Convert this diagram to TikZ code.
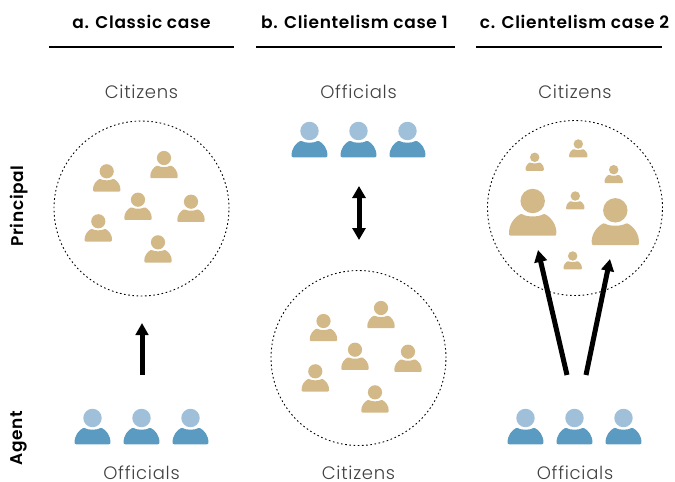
\documentclass[tikz,border=0pt]{standalone}
\usepackage{fontspec}
\setmainfont{Poppins Light}[BoldFont={Poppins SemiBold},LetterSpace=4]
\usetikzlibrary{arrows.meta}
\definecolor{tan}{HTML}{D3B888}
\definecolor{bluehead}{HTML}{A0BFD8}
\definecolor{bluebody}{HTML}{5B9BC1}
\tikzset{
  groupcircle/.style={circle,draw=black,dash pattern=on 1.6pt off 2.6pt,line width=.9pt,minimum size=175pt,inner sep=0pt},
  lab/.style={font=\fontsize{18}{20}\selectfont,text=black!75,inner sep=0pt},
  head/.style={font=\bfseries\fontsize{17}{20}\selectfont,inner sep=0pt},
  side/.style={font=\bfseries\fontsize{17}{20}\selectfont,rotate=90,inner sep=0pt},
  rule/.style={line width=1.4pt},
  arr/.style={line width=5pt,-{Triangle[length=12pt,width=12.5pt]}},
  darr/.style={line width=5pt,{Triangle[length=12pt,width=13pt]}-{Triangle[length=12pt,width=13pt]}},
}
\newcommand{\icon}[5]{% x y scale headcolor bodycolor
  \begin{scope}[shift={(#1,#2)},scale=#3]
    \fill[#4] (0,0) circle (7.1);
    \fill[#5,rounded corners=1pt] (-13.6,20.2) .. controls (-14.4,13.5) and (-10,9) .. (-6.5,7.4)
      .. controls (-3.5,9.4) and (3.5,9.4) .. (6.5,7.4)
      .. controls (10,9) and (14.4,13.5) .. (13.6,20.2) -- cycle;
  \end{scope}}
\begin{document}
\begin{tikzpicture}[x=1pt,y=-1pt]
\useasboundingbox (0,0) rectangle (675,482);
% headings
\node[head] (ta) at (141.5,22) {a. Classic case};
\node[head] (tb) at (354.5,22) {b. Clientelism case 1};
\node[head] (tc) at (574.5,22) {c. Clientelism case 2};
\draw[rule] (49,47) -- (234,47);
\draw[rule] (256,47) -- (455,47);
\draw[rule] (476,47) -- (662,47);
\node[side] (pr) at (19,206) {Principal};
\node[side] (ag) at (19,438) {Agent};
\node[lab] (l1) at (141.5,92) {Citizens};
\node[lab] (l2) at (358.5,92) {Officials};
\node[lab] (l3) at (575,92) {Citizens};
\node[lab] (l4) at (141.5,473) {Officials};
\node[lab] (l5) at (358.5,473) {Citizens};
\node[lab] (l6) at (575,473) {Officials};
% circles
\node[groupcircle] (ca) at (141.5,208.5) {};
\node[groupcircle] (cb) at (358.5,358) {};
\node[groupcircle] (cc) at (575,208) {};
% case a
\icon{106.7}{171.3}{1}{tan}{tan}
\icon{164}{158}{1}{tan}{tan}
\icon{138}{199.7}{1}{tan}{tan}
\icon{191}{201.7}{1}{tan}{tan}
\icon{98.3}{221.3}{1}{tan}{tan}
\icon{158}{242.3}{1}{tan}{tan}
% case b
\icon{323.5}{321}{1}{tan}{tan}
\icon{381}{308}{1}{tan}{tan}
\icon{355}{349.7}{1}{tan}{tan}
\icon{408}{351.7}{1}{tan}{tan}
\icon{315.3}{371.3}{1}{tan}{tan}
\icon{375}{392.3}{1}{tan}{tan}
% case c
\icon{534.7}{157.3}{.667}{tan}{tan}
\icon{578.3}{144}{.667}{tan}{tan}
\icon{613.7}{169.7}{.667}{tan}{tan}
\icon{575.3}{196}{.667}{tan}{tan}
\icon{572.7}{256}{.667}{tan}{tan}
\icon{532.7}{201}{1.72}{tan}{tan}
\icon{615.3}{210.3}{1.72}{tan}{tan}
% officials
\foreach \x in {92.5,141.5,190.5,525.5,574.5,623.5} {\icon{\x}{418}{1.3}{bluehead}{bluebody}}
\foreach \x in {309.5,358.5,407.5} {\icon{\x}{131}{1.3}{bluehead}{bluebody}}
% arrows
\coordinate (a1) at (142,375); \coordinate (a2) at (142,323);
\coordinate (b1) at (359,186); \coordinate (b2) at (359,240);
\coordinate (c1) at (567,375); \coordinate (c2) at (538,250);
\coordinate (c3) at (586,375); \coordinate (c4) at (610,259);
\draw[arr] (a1) -- (a2);
\draw[darr] (b1) -- (b2);
\draw[arr] (c1) -- (c2);
\draw[arr] (c3) -- (c4);
\end{tikzpicture}
\end{document}
